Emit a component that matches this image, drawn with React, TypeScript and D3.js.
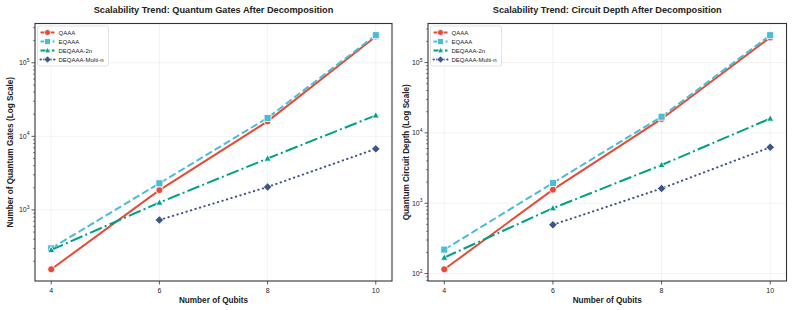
import React from "react";
import * as d3 from "d3";

const qubits = [4, 6, 8, 10];
const seriesNames = ["QAAA", "EQAAA", "DEQAAA-2n", "DEQAAA-Multi-n"];

const gatesQAAA = [156, 1860, 16000, 228000];
const gatesEQAAA = [300, 2300, 17800, 237000];
const gates2n = [286, 1260, 5000, 19300];
const gatesMulti = [null, 730, 2050, 6760];

const depthQAAA = [115, 1560, 15800, 228000];
const depthEQAAA = [219, 1945, 17000, 245000];
const depth2n = [169, 850, 3500, 16000];
const depthMulti = [null, 494, 1620, 6250];

const xTicks = [4, 6, 8, 10];

const colors = ["#E64B35", "#4DBBD5", "#00A087", "#3C5488"];
const dashes = ["none", "7.4,3.2", "12.8,3.2,2,3.2", "0.4,4.3"];
const legendDashes = ["none", "4,2", "6,2,1.5,2", "0.4,3"];
const markers = ["circle", "square", "triangle", "diamond"];

const FONT = "'Liberation Sans', Arial, Helvetica, sans-serif";

type Panel = {
  title: string;
  ylabel: string;
  data: (number | null)[][];
  x0: number;
  x1: number;
  ylabelX: number;
};

const panels: Panel[] = [
  {
    title: "Scalability Trend: Quantum Gates After Decomposition",
    ylabel: "Number of Quantum Gates (Log Scale)",
    data: [gatesQAAA, gatesEQAAA, gates2n, gatesMulti],
    x0: 35,
    x1: 392,
    ylabelX: 10,
  },
  {
    title: "Scalability Trend: Circuit Depth After Decomposition",
    ylabel: "Quantum Circuit Depth (Log Scale)",
    data: [depthQAAA, depthEQAAA, depth2n, depthMulti],
    x0: 428,
    x1: 786.5,
    ylabelX: 405.5,
  },
];

const Y0 = 23.5;
const Y1 = 281;

function Marker({ kind, x, y, color, size = 7 }: any) {
  const h = size / 2;
  const common = { fill: color, stroke: "white", strokeWidth: 0.8 };
  if (kind === "circle") return <circle cx={x} cy={y} r={h} {...common} />;
  if (kind === "square")
    return <rect x={x - h} y={y - h} width={size} height={size} {...common} />;
  if (kind === "triangle") {
    const p = `${x},${y - h * 1.05} ${x + h},${y + h * 0.75} ${x - h},${y + h * 0.75}`;
    return <polygon points={p} {...common} />;
  }
  const d = h * 1.2;
  const p = `${x},${y - d} ${x + d},${y} ${x},${y + d} ${x - d},${y}`;
  return <polygon points={p} {...common} />;
}

function ChartPanel({ p }: { p: Panel }) {
  const all = p.data.flat().filter((v) => v != null) as number[];
  const lmin = Math.log10(d3.min(all)!);
  const lmax = Math.log10(d3.max(all)!);
  const pad = (lmax - lmin) * 0.05;
  const y = d3
    .scaleLog()
    .domain([Math.pow(10, lmin - pad), Math.pow(10, lmax + pad)])
    .range([Y1, Y0]);
  const x = d3.scaleLinear().domain([3.7, 10.3]).range([p.x0, p.x1]);

  const [dlo, dhi] = y.domain();
  const majors: number[] = [];
  const minors: number[] = [];
  for (let e = Math.floor(Math.log10(dlo)); e <= Math.ceil(Math.log10(dhi)); e++) {
    for (let m = 1; m <= 9; m++) {
      const v = m * Math.pow(10, e);
      if (v < dlo || v > dhi) continue;
      if (m === 1) majors.push(v);
      else minors.push(v);
    }
  }

  const cx = (p.x0 + p.x1) / 2;
  const cy = (Y0 + Y1) / 2;

  return (
    <g fontFamily={FONT}>
      <text x={cx} y={13} textAnchor="middle" fontSize={9.2} fontWeight="bold" fill="#222">
        {p.title}
      </text>
      {/* grid */}
      {xTicks.map((t) => (
        <line key={"gx" + t} x1={x(t)} x2={x(t)} y1={Y0} y2={Y1} stroke="#e6e6e6" strokeWidth={0.5} />
      ))}
      {majors.map((v) => (
        <line key={"gy" + v} x1={p.x0} x2={p.x1} y1={y(v)} y2={y(v)} stroke="#e6e6e6" strokeWidth={0.5} />
      ))}
      {/* series */}
      {p.data.map((vals, i) => {
        const pts = qubits
          .map((q, j) => [q, vals[j]] as [number, number | null])
          .filter((d) => d[1] != null) as [number, number][];
        const line = d3
          .line<[number, number]>()
          .x((d) => x(d[0]))
          .y((d) => y(d[1]));
        return (
          <g key={i}>
            <path
              d={line(pts) || ""}
              fill="none"
              stroke={colors[i]}
              strokeWidth={2}
              strokeDasharray={dashes[i]}
              strokeLinecap={i === 3 ? "round" : "butt"}
            />
            {pts.map((d, j) => (
              <Marker key={j} kind={markers[i]} x={x(d[0])} y={y(d[1])} color={colors[i]} />
            ))}
          </g>
        );
      })}
      {/* axes frame */}
      <rect x={p.x0} y={Y0} width={p.x1 - p.x0} height={Y1 - Y0} fill="none" stroke="#333" strokeWidth={1.1} />
      {/* x ticks */}
      {xTicks.map((t) => (
        <g key={"xt" + t}>
          <line x1={x(t)} x2={x(t)} y1={Y1} y2={Y1 + 3.5} stroke="#333" strokeWidth={0.8} />
          <text x={x(t)} y={Y1 + 11.5} textAnchor="middle" fontSize={7} fill="#222">
            {t}
          </text>
        </g>
      ))}
      {/* y ticks */}
      {majors.map((v) => (
        <g key={"yt" + v}>
          <line x1={p.x0 - 3.5} x2={p.x0} y1={y(v)} y2={y(v)} stroke="#333" strokeWidth={0.8} />
          <text x={p.x0 - 5.5} y={y(v) + 2.5} textAnchor="end" fontSize={7} fill="#222">
            10
            <tspan fontSize={5} dy={-3.5}>
              {Math.round(Math.log10(v))}
            </tspan>
          </text>
        </g>
      ))}
      {minors.map((v) => (
        <line key={"ym" + v} x1={p.x0 - 2} x2={p.x0} y1={y(v)} y2={y(v)} stroke="#333" strokeWidth={0.6} />
      ))}
      {/* axis labels */}
      <text x={cx} y={302.5} textAnchor="middle" fontSize={8.2} fontWeight="bold" fill="#222">
        Number of Qubits
      </text>
      <text
        transform={`translate(${p.ylabelX + 3},${cy}) rotate(-90)`}
        textAnchor="middle"
        fontSize={8.2}
        fontWeight="bold"
        fill="#222"
      >
        {p.ylabel}
      </text>
      {/* legend */}
      <g transform={`translate(${p.x0 + 2.5},${Y0 + 2.5})`}>
        <rect x={0} y={0} width={71} height={40} rx={2} fill="white" fillOpacity={0.9} stroke="#d0d0d0" strokeWidth={0.6} />
        {seriesNames.map((n, i) => {
          const ly = 6.5 + i * 9;
          return (
            <g key={n}>
              <line
                x1={3}
                x2={17}
                y1={ly}
                y2={ly}
                stroke={colors[i]}
                strokeWidth={2}
                strokeDasharray={legendDashes[i]}
                strokeLinecap={i === 3 ? "round" : "butt"}
              />
              <Marker kind={markers[i]} x={10} y={ly} color={colors[i]} size={6} />
              <text x={21} y={ly + 2.2} fontSize={6} fill="#222">
                {n}
              </text>
            </g>
          );
        })}
      </g>
    </g>
  );
}

export default function App() {
  return (
    <svg
      width={793}
      height={310}
      style={{ position: "absolute", left: 0, top: 0, background: "white" }}
    >
      <rect width={793} height={310} fill="white" />
      {panels.map((p, i) => (
        <ChartPanel key={i} p={p} />
      ))}
    </svg>
  );
}
